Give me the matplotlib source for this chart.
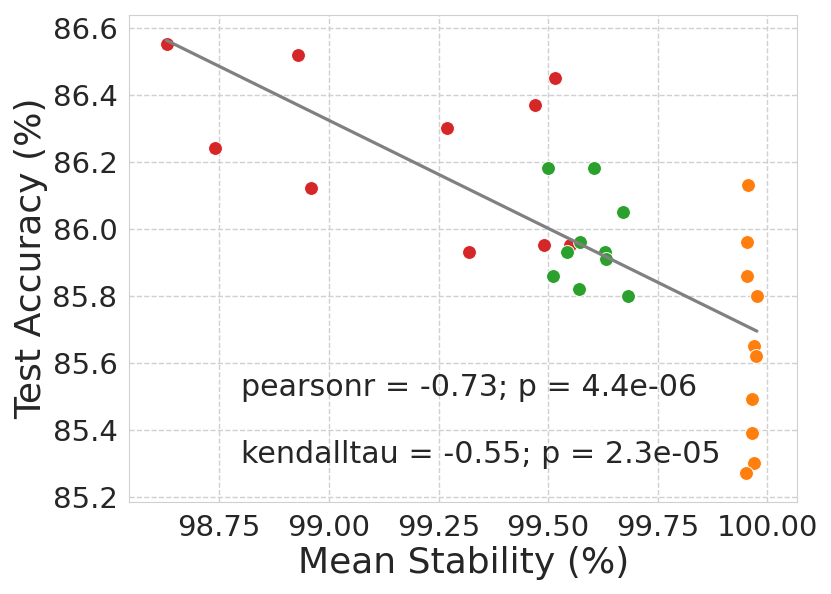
import numpy as np
import matplotlib
matplotlib.use("Agg")
import matplotlib.pyplot as plt
import seaborn as sns

# data
red_x = [98.63, 98.93, 98.74, 98.96, 99.27, 99.32, 99.515, 99.47, 99.49, 99.55]
red_y = [86.55, 86.52, 86.24, 86.12, 86.30, 85.93, 86.45, 86.37, 85.95, 85.95]
green_x = [99.50, 99.605, 99.67, 99.572, 99.543, 99.63, 99.631, 99.51, 99.57, 99.681]
green_y = [86.18, 86.18, 86.05, 85.96, 85.93, 85.93, 85.91, 85.86, 85.82, 85.80]
orange_x = [99.956, 99.953, 99.954, 99.976, 99.969, 99.975, 99.965, 99.964, 99.97, 99.951]
orange_y = [86.13, 85.96, 85.86, 85.80, 85.65, 85.62, 85.49, 85.39, 85.30, 85.27]
annotations = ["pearsonr = -0.73; p = 4.4e-06", "kendalltau = -0.55; p = 2.3e-05"]
xticks = [98.75, 99.00, 99.25, 99.50, 99.75, 100.00]
yticks = [85.2, 85.4, 85.6, 85.8, 86.0, 86.2, 86.4, 86.6]

sns.set_style("whitegrid", {"grid.linestyle": "--"})
plt.rcParams['font.family'] = ['DejaVu Sans']

fig = plt.figure(figsize=(8.31, 5.94), dpi=100)
ax = fig.add_axes([0.1556, 0.1544, 0.9594 - 0.1556, 0.9753 - 0.1544])

ms = 100
ax.scatter(red_x, red_y, s=ms, color="#d62728", edgecolor="white", linewidth=0.7, zorder=3)
ax.scatter(green_x, green_y, s=ms, color="#2ca02c", edgecolor="white", linewidth=0.7, zorder=3)
ax.scatter(orange_x, orange_y, s=ms, color="#ff7f0e", edgecolor="white", linewidth=0.7, zorder=3)

all_x = np.array(red_x + green_x + orange_x)
all_y = np.array(red_y + green_y + orange_y)
slope, intercept = np.polyfit(all_x, all_y, 1)
xs = np.array([all_x.min(), all_x.max()])
ax.plot(xs, slope * xs + intercept, color="gray", linewidth=2.3, zorder=4)

ax.text(98.8, 85.5, annotations[0], fontsize=21.7, color="#262626")
ax.text(98.8, 85.3, annotations[1], fontsize=21.7, color="#262626")

ax.set_xlim(98.545, 100.068)
ax.set_ylim(85.183, 86.639)
ax.set_xticks(xticks)
ax.set_xticklabels([f"{v:.2f}" for v in xticks])
ax.set_yticks(yticks)
ax.set_yticklabels([f"{v:.1f}" for v in yticks])
ax.tick_params(labelsize=21, colors="#262626", pad=5)
ax.set_xlabel("Mean Stability (%)", fontsize=26, color="#262626", labelpad=3)
ax.set_ylabel("Test Accuracy (%)", fontsize=26, color="#262626", labelpad=3)
ax.grid(True, linestyle="--", color="#d0d0d0", linewidth=1)
for s in ax.spines.values():
    s.set_color("#d0d0d0")

fig.savefig("out.png", dpi=100)
